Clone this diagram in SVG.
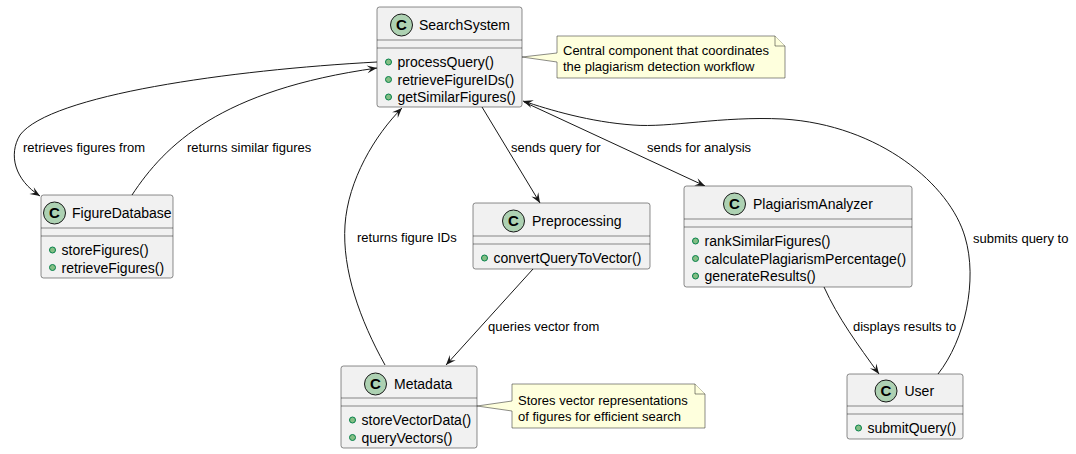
<svg xmlns="http://www.w3.org/2000/svg" width="1076" height="454" viewBox="0 0 1076 454">
<style>
.box{fill:#F1F1F1;stroke:#181818;stroke-width:0.5}
.sep{stroke:#181818;stroke-width:0.5}
.ci{fill:#ADD1B2;stroke:#181818;stroke-width:1}
.cl{font-family:"Liberation Sans",Arial,sans-serif;font-size:15px;font-weight:bold;text-anchor:middle;fill:#000}
.t{font-family:"Liberation Sans",Arial,sans-serif;font-size:14px;fill:#000}
.m{font-family:"Liberation Sans",Arial,sans-serif;font-size:14px;fill:#000}
.dot{fill:#84BE84;stroke:#038048;stroke-width:1}
.lbl{font-family:"Liberation Sans",Arial,sans-serif;font-size:13px;fill:#000}
.note{fill:#FEFFDD;stroke:#181818;stroke-width:0.5}
.edge{fill:none;stroke:#181818;stroke-width:1}
</style>
<defs>
<marker id="arr" viewBox="-11 -6 12 12" refX="0" refY="0" markerWidth="12" markerHeight="12" orient="auto" markerUnits="userSpaceOnUse">
<path d="M0,0 L-10,-4 L-6,0 L-10,4 Z" fill="#181818"/>
</marker>
</defs>

<g id="connectors">
<path class="edge" d="M377,62 C230,70 50,95 20,135 C8,155 15,180 40,196" marker-end="url(#arr)"/>
<path class="edge" d="M132,195 C165,145 220,90 377,68" marker-end="url(#arr)"/>
<path class="edge" d="M482,107 L540,203" marker-end="url(#arr)"/>
<path class="edge" d="M524,102 L705,186" marker-end="url(#arr)"/>
<path class="edge" d="M533,269 L446,365" marker-end="url(#arr)"/>
<path class="edge" d="M385,365 C360,320 342,270 345,225 C348,180 375,135 402,108" marker-end="url(#arr)"/>
<path class="edge" d="M824,287 C838,318 858,345 879,374" marker-end="url(#arr)"/>
<path class="edge" d="M938,374 C965,340 978,280 965,237 C950,185 880,125 783,119 C720,116 670,128 633,125 C590,122 550,110 523,101" marker-end="url(#arr)"/>
<text class="lbl" x="23" y="152">retrieves figures from</text>
<text class="lbl" x="187" y="152">returns similar figures</text>
<text class="lbl" x="511" y="152">sends query for</text>
<text class="lbl" x="647" y="152">sends for analysis</text>
<text class="lbl" x="357" y="242">returns figure IDs</text>
<text class="lbl" x="488" y="331">queries vector from</text>
<text class="lbl" x="853" y="331">displays results to</text>
<text class="lbl" x="973" y="243">submits query to</text>
</g>

<g id="SearchSystem">
<rect class="box" x="377" y="7" width="145" height="100" rx="2.5"/>
<circle class="ci" cx="401.5" cy="25" r="11"/>
<text class="cl" x="401.5" y="30">C</text>
<text class="t" x="419" y="30">SearchSystem</text>
<line class="sep" x1="377" y1="40" x2="522" y2="40"/>
<line class="sep" x1="377" y1="48" x2="522" y2="48"/>
<circle class="dot" cx="388.5" cy="62" r="3"/>
<text class="m" x="397.5" y="67">processQuery()</text>
<circle class="dot" cx="388.5" cy="79.5" r="3"/>
<text class="m" x="397.5" y="84.5">retrieveFigureIDs()</text>
<circle class="dot" cx="388.5" cy="97" r="3"/>
<text class="m" x="397.5" y="102">getSimilarFigures()</text>
</g>

<g id="note1">
<path class="note" d="M557,36 L775,36 L785,46 L785,78 L557,78 L557,62 L522,57 L557,53 Z"/>
<path class="note" d="M775,36 L775,46 L785,46"/>
<text class="lbl" x="563" y="54.5">Central component that coordinates</text>
<text class="lbl" x="563" y="70.5">the plagiarism detection workflow</text>
</g>

<g id="FigureDatabase">
<rect class="box" x="41" y="195" width="132" height="83" rx="2.5"/>
<circle class="ci" cx="54.5" cy="213" r="11"/>
<text class="cl" x="54.5" y="218">C</text>
<text class="t" x="72" y="218">FigureDatabase</text>
<line class="sep" x1="41" y1="228" x2="173" y2="228"/>
<line class="sep" x1="41" y1="236" x2="173" y2="236"/>
<circle class="dot" cx="52.5" cy="250" r="3"/>
<text class="m" x="61.5" y="255">storeFigures()</text>
<circle class="dot" cx="52.5" cy="267.5" r="3"/>
<text class="m" x="61.5" y="272.5">retrieveFigures()</text>
</g>

<g id="Preprocessing">
<rect class="box" x="473" y="203" width="177" height="66" rx="2.5"/>
<circle class="ci" cx="513.5" cy="221" r="11"/>
<text class="cl" x="513.5" y="226">C</text>
<text class="t" x="532" y="226">Preprocessing</text>
<line class="sep" x1="473" y1="236" x2="650" y2="236"/>
<line class="sep" x1="473" y1="244" x2="650" y2="244"/>
<circle class="dot" cx="484.5" cy="258" r="3"/>
<text class="m" x="493.5" y="263">convertQueryToVector()</text>
</g>

<g id="PlagiarismAnalyzer">
<rect class="box" x="684" y="186" width="228" height="101" rx="2.5"/>
<circle class="ci" cx="734.5" cy="204" r="11"/>
<text class="cl" x="734.5" y="209">C</text>
<text class="t" x="753" y="209">PlagiarismAnalyzer</text>
<line class="sep" x1="684" y1="219" x2="912" y2="219"/>
<line class="sep" x1="684" y1="227" x2="912" y2="227"/>
<circle class="dot" cx="695.5" cy="241" r="3"/>
<text class="m" x="704.5" y="246">rankSimilarFigures()</text>
<circle class="dot" cx="695.5" cy="258.5" r="3"/>
<text class="m" x="704.5" y="263.5">calculatePlagiarismPercentage()</text>
<circle class="dot" cx="695.5" cy="276" r="3"/>
<text class="m" x="704.5" y="281">generateResults()</text>
</g>

<g id="Metadata">
<rect class="box" x="341" y="366" width="136" height="82" rx="2.5"/>
<circle class="ci" cx="375.5" cy="384" r="11"/>
<text class="cl" x="375.5" y="389">C</text>
<text class="t" x="394" y="389">Metadata</text>
<line class="sep" x1="341" y1="398" x2="477" y2="398"/>
<line class="sep" x1="341" y1="406" x2="477" y2="406"/>
<circle class="dot" cx="352.5" cy="420" r="3"/>
<text class="m" x="361.5" y="425">storeVectorData()</text>
<circle class="dot" cx="352.5" cy="437.5" r="3"/>
<text class="m" x="361.5" y="442.5">queryVectors()</text>
</g>

<g id="note2">
<path class="note" d="M512,384 L695,384 L705,394 L705,428 L512,428 L512,411 L477,406 L512,401 Z"/>
<path class="note" d="M695,384 L695,394 L705,394"/>
<text class="lbl" x="518" y="404.5">Stores vector representations</text>
<text class="lbl" x="518" y="420.5">of figures for efficient search</text>
</g>

<g id="User">
<rect class="box" x="847" y="374" width="116" height="65" rx="2.5"/>
<circle class="ci" cx="886" cy="391" r="11"/>
<text class="cl" x="886" y="396">C</text>
<text class="t" x="904.5" y="396">User</text>
<line class="sep" x1="847" y1="406" x2="963" y2="406"/>
<line class="sep" x1="847" y1="414" x2="963" y2="414"/>
<circle class="dot" cx="858.5" cy="428" r="3"/>
<text class="m" x="867.5" y="433">submitQuery()</text>
</g>
</svg>
